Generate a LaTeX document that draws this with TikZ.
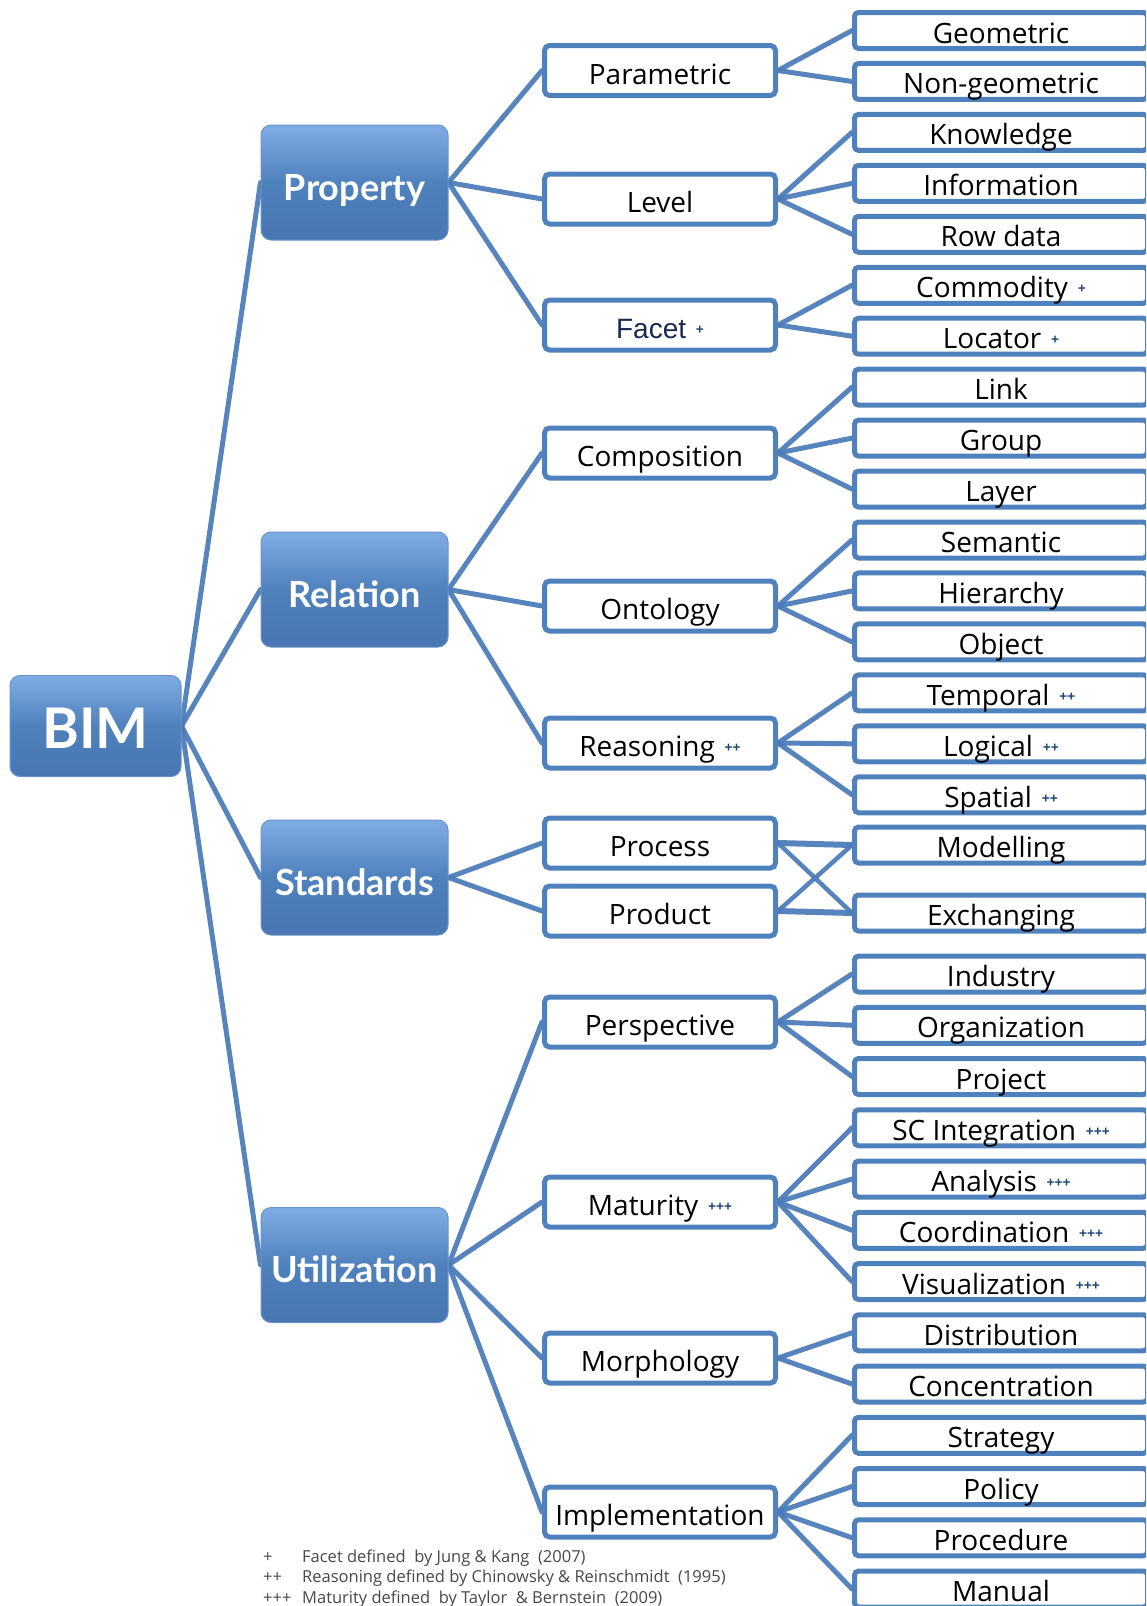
\documentclass[tikz,border=0pt]{standalone}
\usepackage{fontspec}
\setmainfont{Open Sans}
\newfontfamily\arialfont{Liberation Sans}
\newfontfamily\topfont{Lato}
\definecolor{lineblue}{RGB}{74,122,184}
\definecolor{boxblue}{RGB}{79,129,189}
\definecolor{topA}{RGB}{128,172,228}
\definecolor{topB}{RGB}{72,118,178}
\definecolor{markblue}{RGB}{31,73,125}
\definecolor{navy}{RGB}{23,43,80}
\definecolor{notegray}{RGB}{72,72,72}
\newcommand\mk[1]{\hspace{0.35em}\raisebox{4pt}{\fontsize{14}{14}\selectfont\bfseries\color{markblue}#1}}
\pgfdeclarelayer{bg}
\pgfsetlayers{bg,main}
\begin{document}
\begin{tikzpicture}[x=1pt,y=-1pt,
  topnode/.style={rounded corners=10pt, minimum width=187pt, minimum height=115pt, inner sep=0pt,
    top color=topA, bottom color=topB, middle color=boxblue, draw=boxblue!85!white, line width=1pt,
    text=white, font=\topfont\fontsize{36}{40}\selectfont\bfseries, text height=37pt, text depth=2pt},
  midbox/.style={draw=boxblue, line width=5pt, fill=white, rounded corners=5pt,
    minimum width=231pt, minimum height=50pt, inner sep=0pt,
    font=\fontsize{28}{30}\selectfont, text height=29pt, text depth=2pt},
  leafbox/.style={draw=boxblue, line width=5pt, fill=white, rounded corners=4pt,
    minimum width=293pt, minimum height=36pt, inner sep=0pt,
    font=\fontsize{28}{30}\selectfont, text height=27pt, text depth=2pt},
  conn/.style={draw=lineblue, line width=5pt, line cap=round, opacity=0.92},
  note/.style={anchor=base west, inner sep=0pt, text=notegray, font=\fontsize{16.5}{18}\selectfont}
]
\useasboundingbox (0,0) rectangle (1146,1606);
\clip (0,0) rectangle (1146,1606);

% root and top level
\node[topnode, minimum width=171pt, minimum height=101pt, font=\topfont\fontsize{56}{60}\selectfont\bfseries, text height=46pt] (bim) at (95.5,726) {BIM};
\node[topnode] (prop) at (354.5,182.5) {Property};
\node[topnode] (rel) at (354.5,589.5) {Relation};
\node[topnode] (std) at (354.5,877.5) {Standards};
\node[topnode] (uti) at (354.5,1265) {Utilization};

% second level
\node[midbox] (param) at (660,70.5) {Parametric};
\node[midbox] (level) at (660,199) {Level};
\node[midbox] (facet) at (660,325) {{\arialfont\color{navy}Facet}\mk{+}};
\node[midbox] (comp) at (660,453) {Composition};
\node[midbox] (onto) at (660,606) {Ontology};
\node[midbox] (reas) at (660,743) {Reasoning\mk{++}};
\node[midbox] (proc) at (660,843) {Process};
\node[midbox] (prod) at (660,911) {Product};
\node[midbox] (persp) at (660,1022) {Perspective};
\node[midbox] (matu) at (660,1202) {Maturity\mk{+++}};
\node[midbox] (morph) at (660,1358) {Morphology};
\node[midbox] (impl) at (660,1512) {Implementation};

% leaves
\node[leafbox] (geo) at (1001,30.5) {Geometric};
\node[leafbox] (ngeo) at (1001,81.45) {Non-geometric};
\node[leafbox] (know) at (1001,132.4) {Knowledge};
\node[leafbox] (info) at (1001,183.35) {Information};
\node[leafbox] (row) at (1001,234.3) {Row data};
\node[leafbox] (comm) at (1001,285.25) {Commodity\mk{+}};
\node[leafbox] (loc) at (1001,336.2) {Locator\mk{+}};
\node[leafbox] (link) at (1001,387.15) {Link};
\node[leafbox] (group) at (1001,438.1) {Group};
\node[leafbox] (layer) at (1001,489.05) {Layer};
\node[leafbox] (sem) at (1001,540) {Semantic};
\node[leafbox] (hier) at (1001,590.95) {Hierarchy};
\node[leafbox] (obj) at (1001,641.9) {Object};
\node[leafbox] (temp) at (1001,692.85) {Temporal\mk{++}};
\node[leafbox] (logi) at (1001,743.8) {Logical\mk{++}};
\node[leafbox] (spat) at (1001,794.75) {Spatial\mk{++}};
\node[leafbox] (model) at (1001,845) {Modelling};
\node[leafbox] (exch) at (1001,913) {Exchanging};
\node[leafbox] (ind) at (1001,974) {Industry};
\node[leafbox] (org) at (1001,1025.25) {Organization};
\node[leafbox] (proj) at (1001,1076.5) {Project};
\node[leafbox] (sci) at (1001,1127.75) {SC Integration\mk{+++}};
\node[leafbox] (anal) at (1001,1179) {Analysis\mk{+++}};
\node[leafbox] (coord) at (1001,1230.25) {Coordination\mk{+++}};
\node[leafbox] (vis) at (1001,1281.5) {Visualization\mk{+++}};
\node[leafbox] (dist) at (1001,1332.75) {Distribution};
\node[leafbox] (conc) at (1001,1384) {Concentration};
\node[leafbox] (strat) at (1001,1435.25) {Strategy};
\node[leafbox] (pol) at (1001,1486.5) {Policy};
\node[leafbox] (proced) at (1001,1537.75) {Procedure};
\node[leafbox] (man) at (1001,1589) {Manual};

% footnotes
\node[note] (n1a) at (263,1562) {+};
\node[note] (n1b) at (302,1562) {Facet defined\ \ by Jung \& Kang\ \ (2007)};
\node[note] (n2a) at (263,1582) {++};
\node[note] (n2b) at (302,1582) {Reasoning defined by Chinowsky \& Reinschmidt\ \ (1995)};
\node[note] (n3a) at (263,1603) {+++};
\node[note] (n3b) at (302,1603) {Maturity defined\ \ by Taylor\ \ \& Bernstein\ \ (2009)};

\begin{pgfonlayer}{bg}
\foreach \t in {prop,rel,std,uti} \draw[conn] (bim.east) -- (\t.west);
\foreach \t in {param,level,facet} \draw[conn] (prop.east) -- (\t.west);
\foreach \t in {comp,onto,reas} \draw[conn] (rel.east) -- (\t.west);
\foreach \t in {proc,prod} \draw[conn] (std.east) -- (\t.west);
\foreach \t in {persp,matu,morph,impl} \draw[conn] (uti.east) -- (\t.west);
\foreach \t in {geo,ngeo} \draw[conn] (param.east) -- (\t.west);
\foreach \t in {know,info,row} \draw[conn] (level.east) -- (\t.west);
\foreach \t in {comm,loc} \draw[conn] (facet.east) -- (\t.west);
\foreach \t in {link,group,layer} \draw[conn] (comp.east) -- (\t.west);
\foreach \t in {sem,hier,obj} \draw[conn] (onto.east) -- (\t.west);
\foreach \t in {temp,logi,spat} \draw[conn] (reas.east) -- (\t.west);
\draw[conn, line width=6pt] (proc.east) -- (model.west);
\draw[conn, line width=6pt] (prod.east) -- (exch.west);
\draw[conn, line width=4.5pt] (proc.east) -- (exch.west);
\draw[conn, line width=4.5pt] (prod.east) -- (model.west);
\foreach \t in {ind,org,proj} \draw[conn] (persp.east) -- (\t.west);
\foreach \t in {sci,anal,coord,vis} \draw[conn] (matu.east) -- (\t.west);
\foreach \t in {dist,conc} \draw[conn] (morph.east) -- (\t.west);
\foreach \t in {strat,pol,proced,man} \draw[conn] (impl.east) -- (\t.west);
\end{pgfonlayer}
\end{tikzpicture}
\end{document}
